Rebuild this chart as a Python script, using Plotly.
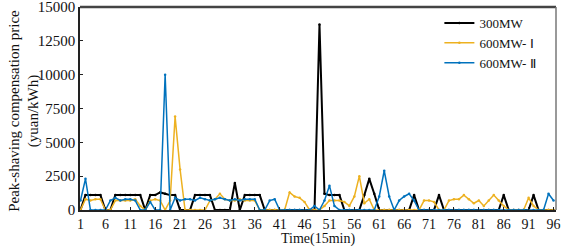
import plotly.graph_objects as go

time = list(range(1, 97))

mw300 = [0, 1100, 1100, 1100, 1100, 0, 0, 1100, 1100, 1100,
         1100, 1100, 1100, 0, 1100, 1100, 1300, 1200, 1100, 1100,
         0, 0, 0, 1100, 1100, 1100, 1100, 0, 0, 0,
         0, 2000, 0, 1100, 1100, 1100, 1100, 0, 0, 0,
         0, 0, 0, 0, 0, 0, 0, 0, 13700, 1200,
         1100, 1100, 1100, 0, 0, 0, 0, 1100, 2300, 1200,
         0, 0, 0, 0, 0, 0, 0, 1100, 0, 0,
         0, 0, 1100, 0, 0, 0, 0, 0, 0, 0,
         0, 0, 0, 0, 0, 1100, 0, 0, 0, 0,
         0, 1100, 0, 0, 0, 0]

mw600_1 = [0, 800, 700, 800, 800, 0, 0, 700, 700, 700,
           700, 800, 300, 0, 700, 800, 700, 0, 700, 6900,
           3000, 0, 0, 0, 0, 0, 700, 800, 1200, 800,
           700, 700, 800, 700, 700, 700, 0, 0, 0, 0,
           0, 0, 1300, 1000, 900, 600, 0, 0, 0, 300,
           700, 700, 700, 600, 300, 1000, 2500, 500, 800, 0,
           0, 0, 0, 0, 0, 0, 0, 0, 0, 700,
           700, 600, 0, 0, 700, 800, 800, 1100, 800, 500,
           700, 300, 700, 1100, 700, 300, 0, 0, 0, 0,
           900, 300, 0, 0, 0, 0]

mw600_2 = [700, 2300, 0, 0, 0, 0, 700, 900, 700, 800,
           800, 700, 0, 0, 600, 0, 0, 10000, 0, 900,
           700, 800, 800, 700, 900, 800, 700, 800, 900, 800,
           700, 800, 700, 800, 800, 800, 0, 0, 700, 800,
           0, 0, 0, 0, 0, 0, 0, 300, 0, 700,
           1800, 300, 0, 0, 0, 0, 0, 0, 0, 0,
           1000, 2900, 1000, 0, 700, 1000, 1200, 700, 0, 0,
           0, 0, 0, 0, 0, 0, 0, 0, 0, 0,
           0, 0, 0, 0, 0, 0, 0, 0, 0, 0,
           0, 0, 0, 0, 1200, 700]

series_names = ["300MW", "600MW- Ⅰ", "600MW- Ⅱ"]
colors = ["#000000", "#EDB120", "#0072BD"]
widths = [2, 1.5, 1.5]

x_ticks = list(range(1, 97, 5))
y_ticks = [0, 2500, 5000, 7500, 10000, 12500, 15000]

fig = go.Figure()
for name, vals, col, w in zip(series_names, [mw300, mw600_1, mw600_2], colors, widths):
    fig.add_trace(go.Scatter(
        x=time, y=vals, name=name, mode="lines+markers",
        line=dict(color=col, width=w),
        marker=dict(color=col, size=2.5, symbol="circle"),
    ))

font_family = "Liberation Serif, Times New Roman, serif"

fig.update_layout(
    width=566, height=248,
    margin=dict(l=80, r=10, t=7, b=38),
    paper_bgcolor="white", plot_bgcolor="white",
    font=dict(family=font_family, size=15, color="#111"),
    showlegend=True,
    legend=dict(
        x=0.755, y=0.995, xanchor="left", yanchor="top",
        bgcolor="rgba(0,0,0,0)", borderwidth=0,
        font=dict(family=font_family, size=13, color="#111"),
        itemwidth=30, tracegroupgap=0,
    ),
    xaxis=dict(
        range=[0.9, 96.5], tickvals=x_ticks, ticktext=[str(t) for t in x_ticks],
        showgrid=False, zeroline=False, automargin=False,
        showline=True, linecolor="#222", linewidth=1.5, mirror=False,
        ticks="inside", ticklen=3, tickcolor="#222",
        tickfont=dict(size=14),
    ),
    yaxis=dict(
        range=[0, 15000], tickvals=y_ticks, ticktext=[str(t) for t in y_ticks],
        showgrid=False, zeroline=False, automargin=False,
        showline=True, linecolor="#222", linewidth=1.5, mirror=False,
        ticks="inside", ticklen=3, tickcolor="#222",
        ticklabeloverflow="allow",
        tickfont=dict(size=15),
    ),
    annotations=[
        dict(text="Peak-shaving compensation price<br>(yuan/kWh)",
             xref="paper", yref="paper", x=-0.117, y=0.49,
             xanchor="center", yanchor="middle", textangle=-90,
             showarrow=False, font=dict(size=15, family=font_family, color="#111")),
        dict(text="Time(15min)",
             xref="paper", yref="paper", x=0.5, y=-0.145,
             xanchor="center", yanchor="middle",
             showarrow=False, font=dict(size=14, family=font_family, color="#111")),
    ],
    shapes=[
        dict(type="line", xref="paper", yref="paper", x0=0, x1=1, y0=1, y1=1,
             line=dict(color="#444", width=2.5)),
        dict(type="line", xref="paper", yref="paper", x0=1, x1=1, y0=0, y1=1,
             line=dict(color="#777", width=1.5)),
    ],
)

fig.write_html("out.html")
